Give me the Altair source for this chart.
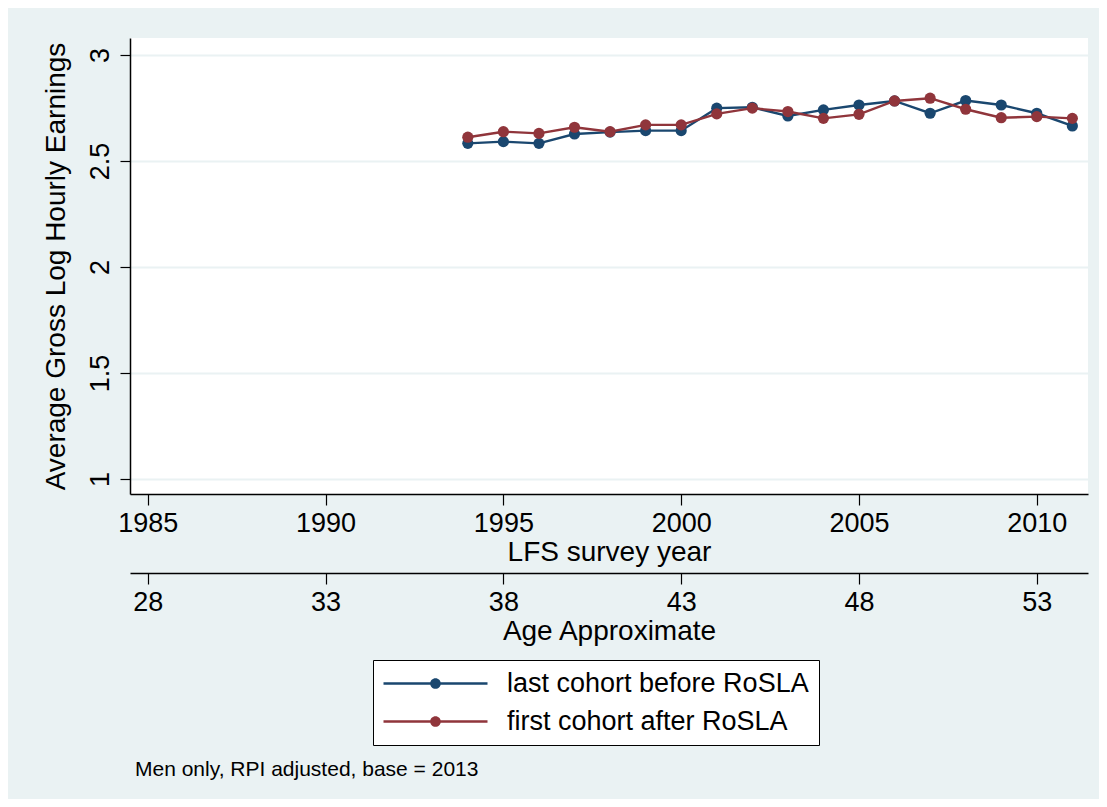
import altair as alt
import pandas as pd

years = list(range(1994, 2012))
last_before = [2.583, 2.591, 2.583, 2.627, 2.636, 2.643, 2.643, 2.749, 2.753, 2.712,
               2.741, 2.764, 2.783, 2.725, 2.785, 2.764, 2.725, 2.665]
first_after = [2.612, 2.638, 2.630, 2.659, 2.638, 2.670, 2.670, 2.722, 2.749, 2.733,
               2.701, 2.720, 2.783, 2.796, 2.744, 2.704, 2.709, 2.701]
series_names = ["last cohort before RoSLA", "first cohort after RoSLA"]
series_colors = ["#1a476f", "#90353b"]
year_ticks = [1985, 1990, 1995, 2000, 2005, 2010]
y_ticks = [1, 1.5, 2, 2.5, 3]
age_offset = 1957
note = "Men only, RPI adjusted, base = 2013"

rows = []
for name, vals in zip(series_names, [last_before, first_after]):
    for yr, v in zip(years, vals):
        rows.append({"year": yr, "earn": v, "series": name})
df = pd.DataFrame(rows)

FONT = "Liberation Sans"
BG = "#EAF2F3"

xscale = alt.Scale(domain=[1984.5, 2011.44], nice=False, zero=False)
yscale = alt.Scale(domain=[0.929, 3.08], nice=False, zero=False)
cscale = alt.Scale(domain=series_names, range=series_colors)

ax_common = dict(
    values=year_ticks, domainColor="black", domainWidth=1.5, tickColor="black",
    tickWidth=1.2, tickSize=11, labelFont=FONT, labelFontSize=27, labelColor="black",
    labelPadding=5, titleFont=FONT, titleFontSize=28, titleFontWeight="normal",
    titleColor="black", grid=False, labelFlush=False,
)

x_year = alt.X("year:Q", scale=xscale, axis=alt.Axis(
    title="LFS survey year", format="d", titlePadding=2, **ax_common))
x_age = alt.X("year:Q", scale=xscale, axis=alt.Axis(
    title="Age Approximate", orient="bottom", offset=79, titlePadding=2,
    labelExpr=f"format(datum.value - {age_offset}, 'd')", **ax_common))
x_none = alt.X("year:Q", scale=xscale, axis=None)

y_enc = alt.Y("earn:Q", scale=yscale, axis=alt.Axis(
    values=y_ticks, format="~g", title="Average Gross Log Hourly Earnings",
    domainColor="black", domainWidth=1.5, tickColor="black", tickWidth=1.2, tickSize=10,
    labelFont=FONT, labelFontSize=27, labelColor="black", labelAngle=270,
    labelAlign="center", labelBaseline="bottom", labelPadding=6,
    titleFont=FONT, titleFontSize=28, titleFontWeight="normal", titleColor="black",
    titlePadding=16, grid=True, gridColor=BG, gridWidth=2))

# legend key: a line with a dot in its middle (path units scaled by sqrt(size)/2 = 13 px)
legend_path = ("M-4,-0.09H4V0.09H-4Z "
               "M-0.41,0A0.41,0.41 0 1,1 0.41,0A0.41,0.41 0 1,1 -0.41,0Z")

color_leg = alt.Color("series:N", scale=cscale, sort=series_names, legend=alt.Legend(
    title=None, orient="none", legendX=243, legendY=622, symbolType=legend_path,
    symbolSize=676, symbolOffset=39, symbolStrokeWidth=0, symbolOpacity=1,
    labelFont=FONT, labelFontSize=27, labelColor="black", labelOffset=58, padding=10,
    strokeColor="black", fillColor="white", rowPadding=10, labelLimit=600))
color_plain = alt.Color("series:N", scale=cscale, sort=series_names)

base = alt.Chart(df)
layers = []
for i, name in enumerate(series_names):
    sub = base.transform_filter(alt.datum.series == name)
    line = sub.mark_line(strokeWidth=2.4, color=series_colors[i]).encode(
        x=x_year if i == 0 else x_none, y=y_enc)
    pts = sub.mark_point(filled=True, size=125, opacity=1).encode(
        x=x_age if i == 0 else x_none, y=y_enc,
        color=color_leg if i == 0 else color_plain)
    layers += [line, pts]

chart = alt.layer(*layers).resolve_axis(x="independent").properties(
    width=958, height=456,
    autosize=alt.AutoSizeParams(type="none"),
    padding={"left": 122, "top": 30, "right": 11, "bottom": 305},
    background=BG,
    title=alt.TitleParams(note, orient="bottom", anchor="start", frame="group",
                          font=FONT, fontSize=21, fontWeight="normal", color="black",
                          offset=13, dx=5),
).configure_view(fill="white", stroke=None)

chart.save("out.html", embed_options={"renderer": "svg", "actions": False})
